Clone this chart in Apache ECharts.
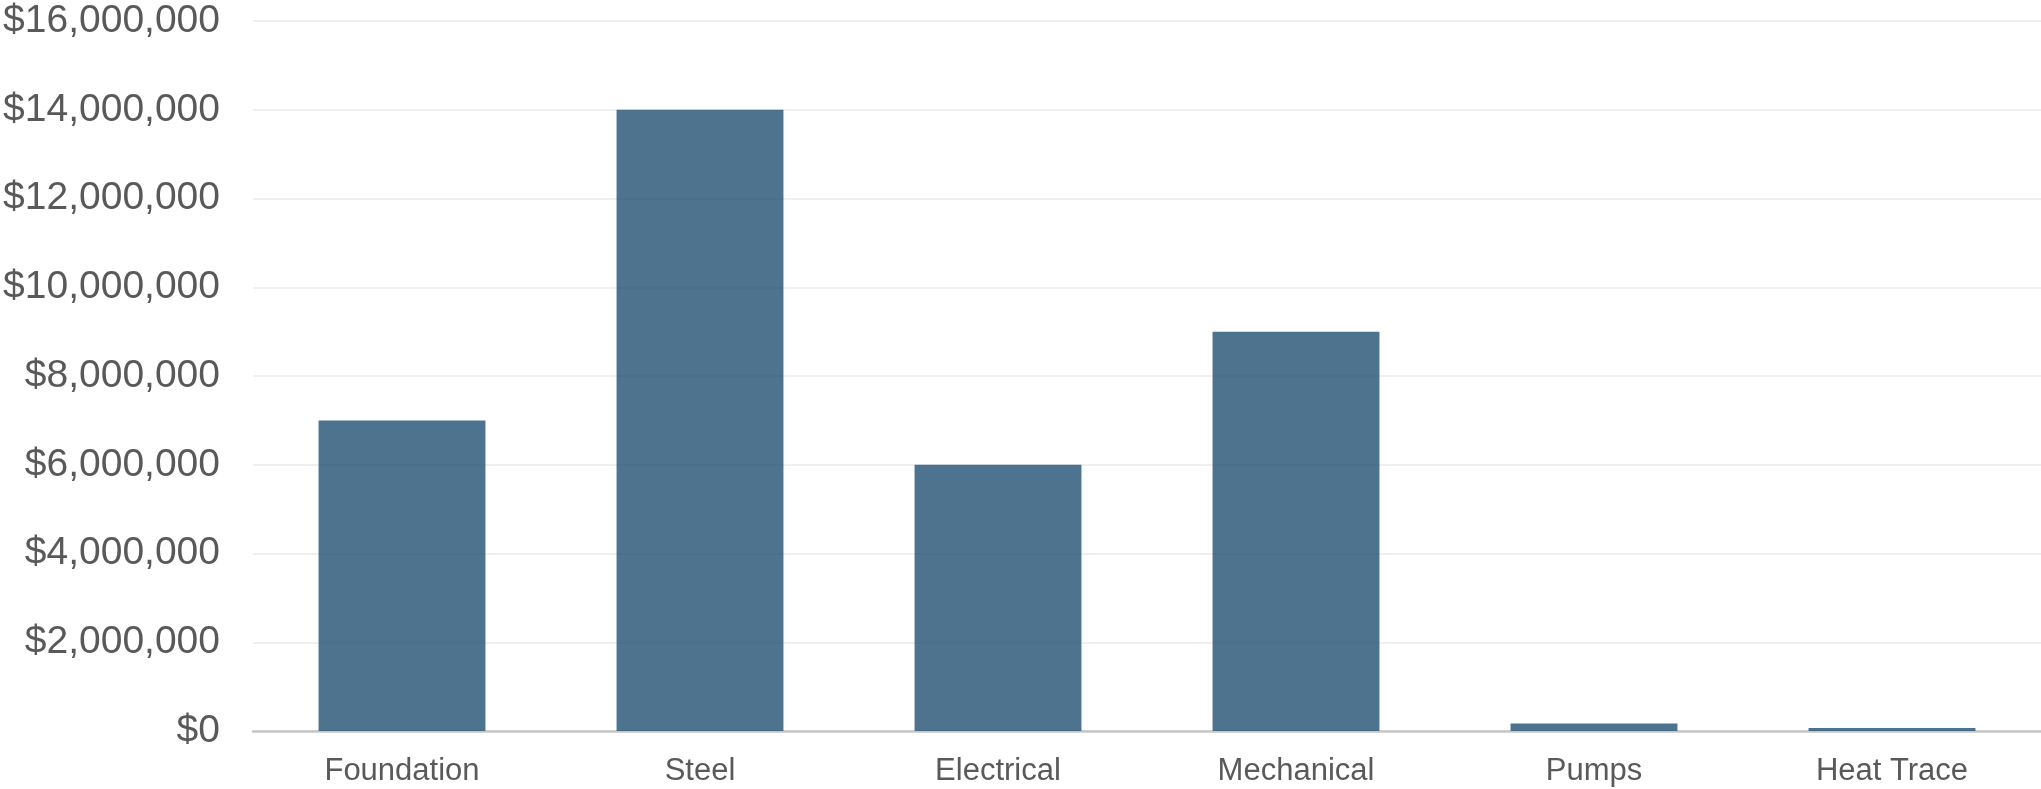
<!DOCTYPE html>
<html>
<head>
<meta charset="utf-8">
<script src="https://cdn.jsdelivr.net/npm/echarts@6/dist/echarts.min.js"></script>
<style>
html,body{margin:0;padding:0;background:#fff;}
#chart{width:2041px;height:789px;}
</style>
</head>
<body>
<div id="chart"></div>
<script>
const categories = ["Foundation", "Steel", "Electrical", "Mechanical", "Pumps", "Heat Trace"];
const costs = [7000000, 14000000, 6000000, 9000000, 170000, 70000];
const yTicks = [0, 2000000, 4000000, 6000000, 8000000, 10000000, 12000000, 14000000, 16000000];

const chart = echarts.init(document.getElementById('chart'), null, {renderer: 'canvas'});
chart.setOption({
  animation: false,
  backgroundColor: '#ffffff',
  grid: {left: 253, right: 0, top: 21, bottom: 58, containLabel: false},
  xAxis: {
    type: 'category',
    data: categories,
    axisLine: {show: true, lineStyle: {color: '#c6c6c6', width: 2.5}},
    axisTick: {show: false},
    axisLabel: {color: '#595959', fontFamily: 'Liberation Sans, Arial, sans-serif', fontSize: 31, margin: 25}
  },
  yAxis: {
    type: 'value',
    min: yTicks[0],
    max: yTicks[yTicks.length - 1],
    interval: 2000000,
    axisLine: {show: false},
    axisTick: {show: false},
    splitLine: {lineStyle: {color: '#efefef', width: 2}},
    axisLabel: {
      color: '#595959', fontFamily: 'Liberation Sans, Arial, sans-serif', fontSize: 39, margin: 33,
      formatter: v => '$' + v.toLocaleString('en-US')
    }
  },
  series: [{
    type: 'bar',
    data: costs,
    barCategoryGap: '44%',
    itemStyle: {color: '#215073', opacity: 0.8}
  }]
});
</script>
</body>
</html>
